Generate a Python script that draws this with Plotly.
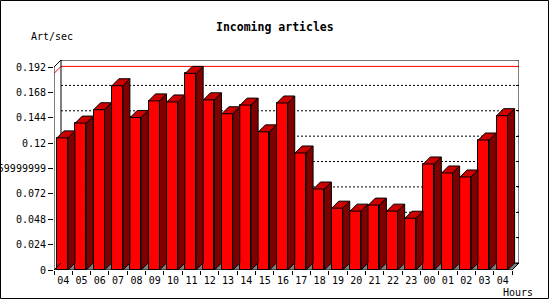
import plotly.graph_objects as go

# ---------------- data ----------------
hours = ["04", "05", "06", "07", "08", "09", "10", "11", "12", "13", "14", "15",
         "16", "17", "18", "19", "20", "21", "22", "23", "00", "01", "02", "03", "04"]
art_per_sec = [0.125, 0.139, 0.1516, 0.1743, 0.1443, 0.160, 0.159, 0.186, 0.161,
               0.1478, 0.156, 0.1307, 0.158, 0.1107, 0.0766, 0.0585, 0.0557,
               0.0614, 0.0557, 0.049, 0.1003, 0.0918, 0.088, 0.123, 0.146]
y_tickvals = [0, 0.024, 0.048, 0.072, 0.096, 0.12, 0.144, 0.168, 0.192]
y_ticktext = ["0", "0.024", "0.048", "0.072", "0.0959999999", "0.12", "0.144", "0.168", "0.192"]

# ---------------- geometry / style ----------------
W, H = 550, 300
ML, MT, MB = 54, 60, 30
PPX = 18.32          # px per slot
PPY = 1057.0         # px per unit
DEPTH = 7            # 3D depth in px
DX = DEPTH / PPX
DY = DEPTH / PPY
N = len(hours)
BAR_OFF, BAR_W = 0.16, 0.6
plot_w = N * PPX + DEPTH
plot_h = H - MT - MB
MR = W - ML - plot_w
YTOP = plot_h / PPY
XTOP = N + DX
YMAX = y_tickvals[-1]

FRONT, SIDE, TOP, FLOOR = "#ff0000", "#800000", "#cc0000", "#808080"
FONT = "DejaVu Sans Mono"

fig = go.Figure()

# front faces
fig.add_trace(go.Bar(
    x=[i + BAR_OFF + BAR_W / 2 for i in range(N)], y=art_per_sec, width=BAR_W,
    marker=dict(color=FRONT, line=dict(color="black", width=1)),
    hoverinfo="skip", showlegend=False))

# side and top faces
sx, sy, tx, ty = [], [], [], []
for i, v in enumerate(art_per_sec):
    x0 = i + BAR_OFF
    x1 = x0 + BAR_W
    sx += [x1, x1, x1 + DX, x1 + DX, x1, None]
    sy += [0, v, v + DY, DY, 0, None]
    tx += [x0, x0 + DX, x1 + DX, x1, x0, None]
    ty += [v, v + DY, v + DY, v, v, None]
fig.add_trace(go.Scatter(x=sx, y=sy, mode="lines", fill="toself", fillcolor=SIDE,
                         line=dict(color="black", width=1), hoverinfo="skip", showlegend=False))
fig.add_trace(go.Scatter(x=tx, y=ty, mode="lines", fill="toself", fillcolor=TOP,
                         line=dict(color="black", width=1), hoverinfo="skip", showlegend=False))

shapes = []
# floor
shapes.append(dict(type="path", xref="x", yref="y", layer="below",
                   path=f"M0,0 L{DX},{DY} L{N + DX},{DY} L{N},0 Z",
                   fillcolor=FLOOR, line=dict(width=0)))
# back grid lines
for v in y_tickvals[1:-1]:
    shapes.append(dict(type="line", xref="x", yref="y", layer="below",
                       x0=DX, x1=N + DX, y0=v + DY, y1=v + DY,
                       line=dict(color="black", width=1, dash="2px,2px")))
# max line
vmax = max(art_per_sec)
shapes.append(dict(type="line", xref="x", yref="y", layer="below",
                   x0=DX, x1=N + DX, y0=vmax + DY, y1=vmax + DY,
                   line=dict(color="#ff0000", width=1)))
shapes.append(dict(type="line", xref="x", yref="y", layer="below",
                   x0=0, x1=DX, y0=vmax, y1=vmax + DY,
                   line=dict(color="#ff0000", width=1)))
# back frame
shapes.append(dict(type="rect", xref="x", yref="y", layer="below",
                   x0=DX, x1=N + DX, y0=DY, y1=YMAX + DY,
                   line=dict(color="black", width=1)))
# connecting diagonals
for (xa, ya) in [(0, YMAX), (0, 0), (N, 0)]:
    shapes.append(dict(type="line", xref="x", yref="y", layer="above",
                       x0=xa, x1=xa + DX, y0=ya, y1=ya + DY,
                       line=dict(color="black", width=1)))
# front axes
shapes.append(dict(type="line", xref="x", yref="y", layer="above",
                   x0=0, x1=0, y0=0, y1=YMAX, line=dict(color="black", width=1)))
shapes.append(dict(type="line", xref="x", yref="y", layer="above",
                   x0=0, x1=N, y0=0, y1=0, line=dict(color="black", width=1)))
# outer border
def px2paper_x(p):
    return (p - ML) / plot_w
def px2paper_y(p):
    return (H - MB - p) / plot_h
shapes.append(dict(type="rect", xref="paper", yref="paper",
                   x0=px2paper_x(0.5), x1=px2paper_x(548.5),
                   y0=px2paper_y(0.5), y1=px2paper_y(298.5),
                   line=dict(color="black", width=1)))

fig.update_layout(
    width=W, height=H,
    margin=dict(l=ML, r=MR, t=MT, b=MB, pad=0),
    paper_bgcolor="white", plot_bgcolor="white",
    font=dict(family=FONT, size=10, color="black"),
    showlegend=False, bargap=0,
    shapes=shapes,
    xaxis=dict(range=[0, XTOP], showgrid=False, zeroline=False, showline=False,
               tickmode="array", tickvals=[i + 0.5 for i in range(N)], ticktext=hours,
               ticks="", tickfont=dict(family=FONT, size=10), automargin=False,
               ticklabelstandoff=3,
               minor=dict(tickmode="array", tickvals=list(range(N + 1)), ticks="outside",
                          ticklen=4, tickcolor="black", showgrid=False)),
    yaxis=dict(range=[0, YTOP], showgrid=False, zeroline=False, showline=False,
               tickmode="array", tickvals=y_tickvals, ticktext=y_ticktext,
               ticks="outside", ticklen=5, tickcolor="black", automargin=False,
               tickfont=dict(family=FONT, size=10)),
    yaxis2=dict(range=[-DY, YTOP - DY], overlaying="y", side="right", anchor="free",
                position=1, showgrid=False, zeroline=False, showline=False,
                tickmode="array", tickvals=y_tickvals, ticks="inside", ticklen=3,
                tickcolor="black", showticklabels=False, automargin=False),
    annotations=[
        dict(text="<b>Incoming articles</b>", xref="paper", yref="paper",
             x=px2paper_x(275), y=px2paper_y(27), xanchor="center", yanchor="middle",
             showarrow=False, font=dict(family=FONT, size=11.5)),
        dict(text="Art/sec", xref="paper", yref="paper",
             x=px2paper_x(29), y=px2paper_y(37), xanchor="left", yanchor="middle",
             showarrow=False, font=dict(family=FONT, size=10)),
        dict(text="Hours", xref="paper", yref="paper",
             x=px2paper_x(535), y=px2paper_y(292), xanchor="right", yanchor="middle",
             showarrow=False, font=dict(family=FONT, size=10)),
    ],
)
# dummy trace to activate yaxis2 ticks
fig.add_trace(go.Scatter(x=[None], y=[None], yaxis="y2", showlegend=False, hoverinfo="skip"))

fig.write_html("out.html")
